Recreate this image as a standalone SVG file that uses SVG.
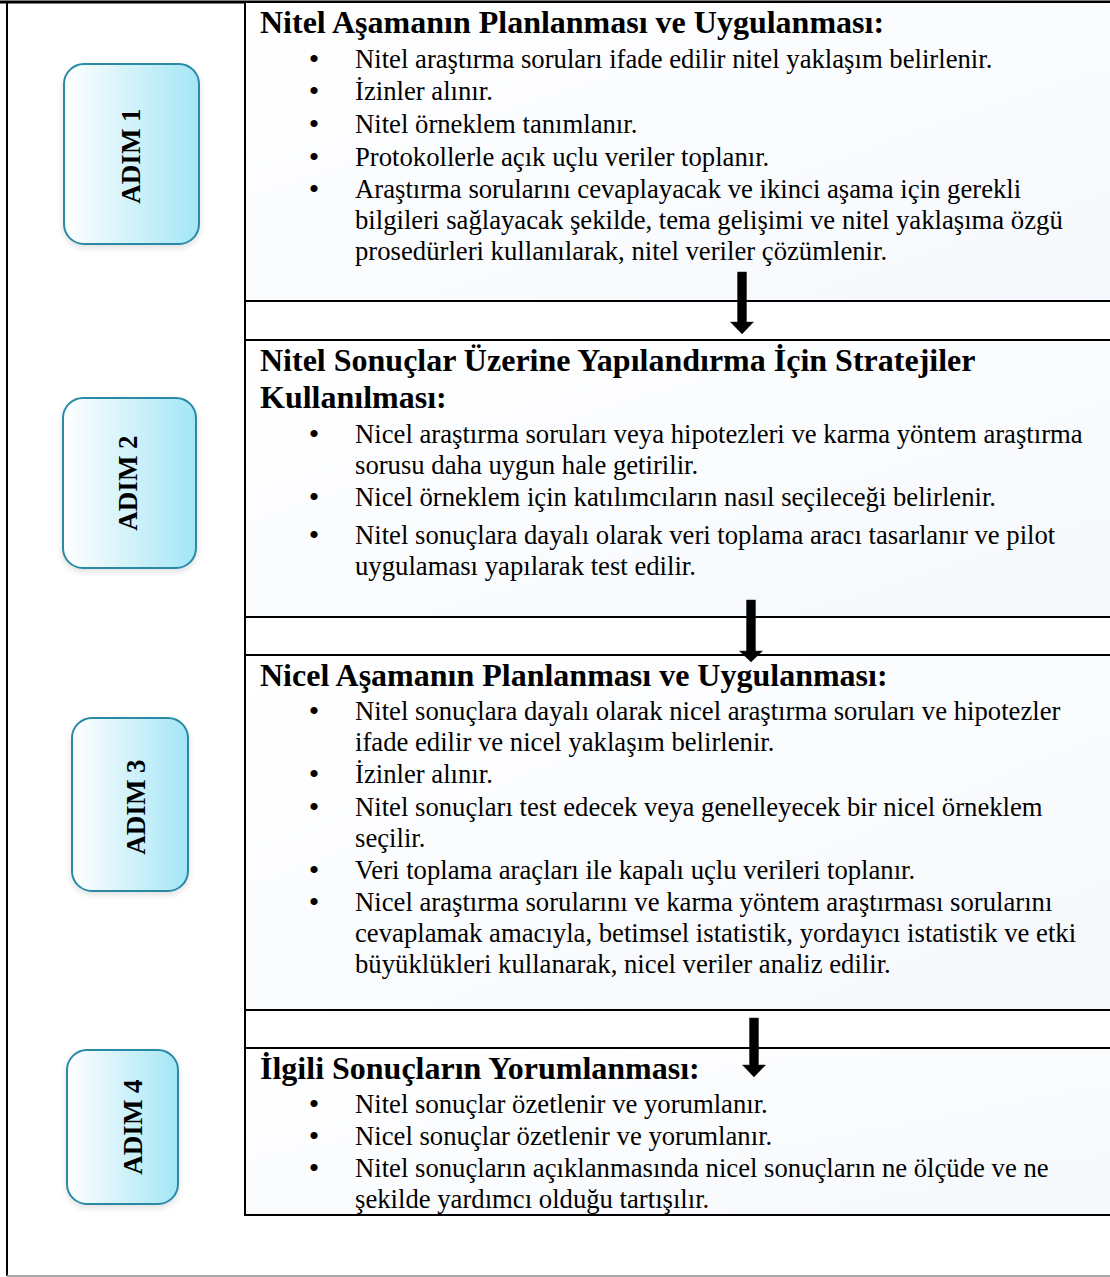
<svg xmlns="http://www.w3.org/2000/svg" width="1110" height="1277" viewBox="0 0 1110 1277">
<style>
.ttl{font-family:"Liberation Serif","Times New Roman",serif;font-weight:bold;font-size:32px;fill:#000}
.txt{font-family:"Liberation Serif","Times New Roman",serif;font-size:26.7px;fill:#000}
.bul{font-family:"Liberation Serif","Times New Roman",serif;font-size:30px;fill:#000;text-anchor:middle}
.adim{font-family:"Liberation Serif","Times New Roman",serif;font-weight:bold;font-size:27px;fill:#000;text-anchor:middle}
.step{fill:url(#stepGrad);stroke:#2a8aa6;stroke-width:2}
.panel{fill:url(#panelGrad);stroke:#000;stroke-width:2}
.arrow{fill:#000;stroke:#222;stroke-width:0.5}
</style>
<defs>
<linearGradient id="stepGrad" x1="0" y1="0" x2="1" y2="0">
<stop offset="0" stop-color="#ffffff"/>
<stop offset="0.3" stop-color="#e4f7fc"/>
<stop offset="1" stop-color="#a3e6f6"/>
</linearGradient>
<linearGradient id="panelGrad" x1="0" y1="0" x2="1" y2="1">
<stop offset="0" stop-color="#ffffff"/>
<stop offset="1" stop-color="#f5f8fc"/>
</linearGradient>
<filter id="sh" x="-20%" y="-20%" width="140%" height="140%">
<feDropShadow dx="0" dy="3" stdDeviation="3" flood-color="#000" flood-opacity="0.12"/>
</filter>
</defs>
<rect x="0" y="0" width="1110" height="1277" fill="#ffffff"/>
<!-- outer frame -->
<g id="frame">
<line x1="0" y1="2" x2="1110" y2="2" stroke="#000" stroke-width="3"/>
<line x1="7" y1="1" x2="7" y2="1276" stroke="#000" stroke-width="2"/>
<line x1="7" y1="1276" x2="1110" y2="1276" stroke="#aaa" stroke-width="2"/>
<line x1="245" y1="2" x2="245" y2="1215" stroke="#000" stroke-width="2"/>
</g>
<!-- step labels -->
<g id="adim1">
<rect class="step" x="64" y="64" width="135" height="180" rx="20" filter="url(#sh)"/>
<text class="adim" transform="translate(140,156) rotate(-90)">ADIM 1</text>
</g>
<g id="adim2">
<rect class="step" x="63" y="398" width="133" height="170" rx="20" filter="url(#sh)"/>
<text class="adim" transform="translate(137,483) rotate(-90)">ADIM 2</text>
</g>
<g id="adim3">
<rect class="step" x="72" y="718" width="116" height="173" rx="20" filter="url(#sh)"/>
<text class="adim" transform="translate(145,807) rotate(-90)">ADIM 3</text>
</g>
<g id="adim4">
<rect class="step" x="67" y="1050" width="111" height="154" rx="20" filter="url(#sh)"/>
<text class="adim" transform="translate(142,1127) rotate(-90)">ADIM 4</text>
</g>
<!-- panels -->
<g id="panel1">
<rect class="panel" x="245" y="2" width="880" height="299"/>
<text class="ttl" x="260" y="33">Nitel Aşamanın Planlanması ve Uygulanması:</text>
<text class="bul" x="314" y="69">•</text><text class="txt" x="355" y="68">Nitel araştırma soruları ifade edilir nitel yaklaşım belirlenir.</text>
<text class="bul" x="314" y="101">•</text><text class="txt" x="355" y="100">İzinler alınır.</text>
<text class="bul" x="314" y="134">•</text><text class="txt" x="355" y="133">Nitel örneklem tanımlanır.</text>
<text class="bul" x="314" y="167">•</text><text class="txt" x="355" y="166">Protokollerle açık uçlu veriler toplanır.</text>
<text class="bul" x="314" y="199">•</text><text class="txt" x="355" y="198">Araştırma sorularını cevaplayacak ve ikinci aşama için gerekli</text>
<text class="txt" x="355" y="229">bilgileri sağlayacak şekilde, tema gelişimi ve nitel yaklaşıma özgü</text>
<text class="txt" x="355" y="260">prosedürleri kullanılarak, nitel veriler çözümlenir.</text>
</g>
<g id="panel2">
<rect class="panel" x="245" y="340" width="880" height="277"/>
<text class="ttl" x="260" y="371">Nitel Sonuçlar Üzerine Yapılandırma İçin Stratejiler</text>
<text class="ttl" x="260" y="408">Kullanılması:</text>
<text class="bul" x="314" y="444">•</text><text class="txt" x="355" y="443">Nicel araştırma soruları veya hipotezleri ve karma yöntem araştırma</text>
<text class="txt" x="355" y="474">sorusu daha uygun hale getirilir.</text>
<text class="bul" x="314" y="507">•</text><text class="txt" x="355" y="506">Nicel örneklem için katılımcıların nasıl seçileceği belirlenir.</text>
<text class="bul" x="314" y="545">•</text><text class="txt" x="355" y="544">Nitel sonuçlara dayalı olarak veri toplama aracı tasarlanır ve pilot</text>
<text class="txt" x="355" y="575">uygulaması yapılarak test edilir.</text>
</g>
<g id="panel3">
<rect class="panel" x="245" y="655" width="880" height="355"/>
<text class="ttl" x="260" y="686">Nicel Aşamanın Planlanması ve Uygulanması:</text>
<text class="bul" x="314" y="721">•</text><text class="txt" x="355" y="720">Nitel sonuçlara dayalı olarak nicel araştırma soruları ve hipotezler</text>
<text class="txt" x="355" y="751">ifade edilir ve nicel yaklaşım belirlenir.</text>
<text class="bul" x="314" y="784">•</text><text class="txt" x="355" y="783">İzinler alınır.</text>
<text class="bul" x="314" y="817">•</text><text class="txt" x="355" y="816">Nitel sonuçları test edecek veya genelleyecek bir nicel örneklem</text>
<text class="txt" x="355" y="847">seçilir.</text>
<text class="bul" x="314" y="880">•</text><text class="txt" x="355" y="879">Veri toplama araçları ile kapalı uçlu verileri toplanır.</text>
<text class="bul" x="314" y="912">•</text><text class="txt" x="355" y="911">Nicel araştırma sorularını ve karma yöntem araştırması sorularını</text>
<text class="txt" x="355" y="942">cevaplamak amacıyla, betimsel istatistik, yordayıcı istatistik ve etki</text>
<text class="txt" x="355" y="973">büyüklükleri kullanarak, nicel veriler analiz edilir.</text>
</g>
<g id="panel4">
<rect class="panel" x="245" y="1048" width="880" height="167"/>
<text class="ttl" x="260" y="1079">İlgili Sonuçların Yorumlanması:</text>
<text class="bul" x="314" y="1114">•</text><text class="txt" x="355" y="1113">Nitel sonuçlar özetlenir ve yorumlanır.</text>
<text class="bul" x="314" y="1146">•</text><text class="txt" x="355" y="1145">Nicel sonuçlar özetlenir ve yorumlanır.</text>
<text class="bul" x="314" y="1178">•</text><text class="txt" x="355" y="1177">Nitel sonuçların açıklanmasında nicel sonuçların ne ölçüde ve ne</text>
<text class="txt" x="355" y="1208">şekilde yardımcı olduğu tartışılır.</text>
</g>
<!-- connectors -->
<g id="connectors">
<path class="arrow" d="M737.5,272 H746.5 V322 H753.5 L742,334 L730.5,322 H737.5 Z"/>
<path class="arrow" d="M746.5,600 H755.5 V651 H762.5 L751,662 L739.5,651 H746.5 Z"/>
<path class="arrow" d="M749.5,1018 H758.5 V1065 H765.5 L754,1077 L742.5,1065 H749.5 Z"/>
</g>
</svg>
